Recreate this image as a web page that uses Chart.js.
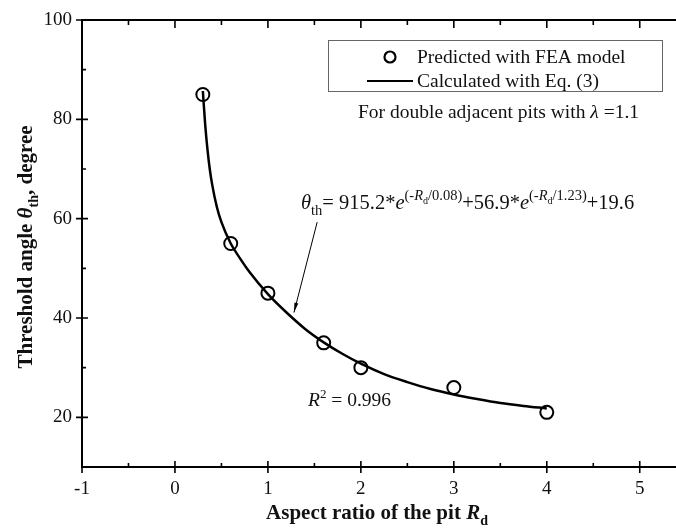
<!DOCTYPE html>
<html>
<head>
<meta charset="utf-8">
<script src="https://cdn.jsdelivr.net/npm/chart.js@4"></script>
<style>
  body { margin: 0; background: #fff; }
  canvas { display: block; }
</style>
</head>
<body>
<canvas id="chart" width="676" height="531"></canvas>
<script>
// FEA results (circles)
const feaR = [0.3, 0.6, 1, 1.6, 2, 3, 4];
const feaTheta = [85, 55, 45, 35, 30, 26, 21];

// fitted curve
const fitR = [0.3, 0.325, 0.35, 0.375, 0.4, 0.45, 0.5, 0.6, 0.7, 0.8, 1.0, 1.2, 1.4, 1.6, 1.8, 2.0, 2.25, 2.5, 2.75, 3.0, 3.25, 3.5, 3.75, 4.0];
const fitTheta = [85.7, 79.0, 73.9, 69.9, 66.9, 62.4, 59.3, 55.0, 52.0, 49.3, 44.8, 41.1, 37.8, 35.1, 32.8, 30.8, 28.7, 27.1, 25.7, 24.6, 23.7, 22.9, 22.3, 21.8];

const xTicks = [-1, 0, 1, 2, 3, 4, 5];
const yTicks = [20, 40, 60, 80, 100];

const serif = '"Liberation Serif", "Times New Roman", serif';
const ink = '#111';

// draws a run of mixed-style text pieces, baseline at y
function rich(ctx, segs, x, y, align) {
  let w = 0;
  segs.forEach(s => { ctx.font = s.f; w += ctx.measureText(s.t).width; });
  let cx = align === 'center' ? x - w / 2 : x;
  ctx.textBaseline = 'alphabetic';
  ctx.textAlign = 'left';
  segs.forEach(s => {
    ctx.font = s.f;
    ctx.fillText(s.t, cx, y + (s.dy || 0));
    cx += ctx.measureText(s.t).width;
  });
}

const extras = {
  id: 'extras',
  afterDraw(chart) {
    const ctx = chart.ctx;
    const a = chart.chartArea;
    const xs = chart.scales.x, ys = chart.scales.y;
    ctx.save();
    ctx.strokeStyle = '#000';
    ctx.fillStyle = ink;

    // top axis line
    ctx.lineWidth = 2;
    ctx.beginPath();
    ctx.moveTo(a.left - 1, a.top);
    ctx.lineTo(chart.width, a.top);
    ctx.stroke();

    // tick marks
    ctx.lineWidth = 1.6;
    ctx.beginPath();
    xTicks.forEach(v => {
      const px = xs.getPixelForValue(v);
      ctx.moveTo(px, a.bottom - 6); ctx.lineTo(px, a.bottom + 6);
      ctx.moveTo(px, a.top); ctx.lineTo(px, a.top + 8);
      const m = v + 0.5;
      if (m < xs.max) {
        const pm = xs.getPixelForValue(m);
        ctx.moveTo(pm, a.bottom - 4); ctx.lineTo(pm, a.bottom);
        ctx.moveTo(pm, a.top); ctx.lineTo(pm, a.top + 5);
      }
    });
    yTicks.forEach(v => {
      const py = ys.getPixelForValue(v);
      ctx.moveTo(a.left - 6, py); ctx.lineTo(a.left + 6, py);
      const m = v - 10;
      if (m > ys.min) {
        const pm = ys.getPixelForValue(m);
        ctx.moveTo(a.left, pm); ctx.lineTo(a.left + 4, pm);
      }
    });
    ctx.stroke();

    // legend box
    ctx.strokeStyle = '#666';
    ctx.lineWidth = 1;
    ctx.strokeRect(328.5, 40.5, 334, 51);
    ctx.strokeStyle = '#000';
    ctx.lineWidth = 2.2;
    ctx.beginPath();
    ctx.arc(390, 57, 5.5, 0, Math.PI * 2);
    ctx.stroke();
    ctx.lineWidth = 2;
    ctx.beginPath();
    ctx.moveTo(367, 81); ctx.lineTo(413, 81);
    ctx.stroke();

    const f = 'normal 19.5px ' + serif;
    const fi = 'italic 19.5px ' + serif;
    rich(ctx, [{ t: 'Predicted with FEA model', f }], 417, 63);
    rich(ctx, [{ t: 'Calculated with Eq. (3)', f }], 417, 87);
    rich(ctx, [
      { t: 'For double adjacent pits with ', f },
      { t: 'λ', f: fi },
      { t: ' =1.1', f }
    ], 358, 118);

    // equation
    const e = 'normal 20.5px ' + serif;
    const ei = 'italic 20.5px ' + serif;
    const s = 'normal 14.5px ' + serif;
    const si = 'italic 14.5px ' + serif;
    const ss = 'normal 10px ' + serif;
    rich(ctx, [
      { t: 'θ', f: ei },
      { t: 'th', f: s, dy: 6 },
      { t: '= 915.2*', f: e },
      { t: 'e', f: ei },
      { t: '(-', f: s, dy: -9 },
      { t: 'R', f: si, dy: -9 },
      { t: 'd', f: ss, dy: -5 },
      { t: '/0.08)', f: s, dy: -9 },
      { t: '+56.9*', f: e },
      { t: 'e', f: ei },
      { t: '(-', f: s, dy: -9 },
      { t: 'R', f: si, dy: -9 },
      { t: 'd', f: ss, dy: -5 },
      { t: '/1.23)', f: s, dy: -9 },
      { t: '+19.6', f: e }
    ], 301, 209);

    // arrow to the curve
    const x0 = xs.getPixelForValue(1.53), y0 = ys.getPixelForValue(59.3);
    const x1 = xs.getPixelForValue(1.28), y1 = ys.getPixelForValue(41.1);
    ctx.lineWidth = 1;
    ctx.beginPath();
    ctx.moveTo(x0, y0); ctx.lineTo(x1, y1);
    ctx.stroke();
    const ang = Math.atan2(y1 - y0, x1 - x0);
    ctx.fillStyle = '#000';
    ctx.beginPath();
    ctx.moveTo(x1, y1);
    ctx.lineTo(x1 - 10 * Math.cos(ang - 0.2), y1 - 10 * Math.sin(ang - 0.2));
    ctx.lineTo(x1 - 10 * Math.cos(ang + 0.2), y1 - 10 * Math.sin(ang + 0.2));
    ctx.closePath();
    ctx.fill();
    ctx.fillStyle = ink;

    rich(ctx, [
      { t: 'R', f: fi },
      { t: '2', f: 'normal 13px ' + serif, dy: -8 },
      { t: ' = 0.996', f }
    ], 308, 406);

    // axis titles
    const b = 'bold 21px ' + serif;
    const bi = 'bold italic 21px ' + serif;
    const bs = 'bold 14px ' + serif;
    rich(ctx, [
      { t: 'Aspect ratio of the pit ', f: b },
      { t: 'R', f: bi },
      { t: 'd', f: bs, dy: 6 }
    ], 377, 519, 'center');

    ctx.translate(32, 247);
    ctx.rotate(-Math.PI / 2);
    rich(ctx, [
      { t: 'Threshold angle ', f: b },
      { t: 'θ', f: bi },
      { t: 'th', f: bs, dy: 6 },
      { t: ', degree', f: b }
    ], 0, 0, 'center');

    ctx.restore();
  }
};

new Chart(document.getElementById('chart'), {
  type: 'scatter',
  data: {
    datasets: [
      {
        label: 'Calculated with Eq. (3)',
        data: fitR.map((r, i) => ({ x: r, y: fitTheta[i] })),
        showLine: true,
        borderColor: '#000',
        borderWidth: 2.5,
        pointRadius: 0,
        cubicInterpolationMode: 'monotone'
      },
      {
        label: 'Predicted with FEA model',
        data: feaR.map((r, i) => ({ x: r, y: feaTheta[i] })),
        showLine: false,
        pointRadius: 6.5,
        pointBorderWidth: 2,
        pointBorderColor: '#000',
        pointBackgroundColor: 'rgba(0,0,0,0)'
      }
    ]
  },
  options: {
    responsive: false,
    devicePixelRatio: 1,
    animation: false,
    layout: { autoPadding: false, padding: { top: 20, right: 0, left: 0, bottom: 0 } },
    plugins: { legend: { display: false }, tooltip: { enabled: false } },
    scales: {
      x: {
        type: 'linear',
        min: -1,
        max: 5.39,
        afterBuildTicks: sc => { sc.ticks = xTicks.map(v => ({ value: v })); },
        afterFit: sc => { sc.height = 64; },
        grid: { display: false },
        border: { display: true, color: '#000', width: 2 },
        ticks: {
          color: ink,
          font: { family: serif, size: 19 },
          padding: 3,
          maxRotation: 0,
          autoSkip: false
        }
      },
      y: {
        min: 10,
        max: 100,
        afterBuildTicks: sc => { sc.ticks = yTicks.map(v => ({ value: v })); },
        afterFit: sc => { sc.width = 82; },
        grid: { display: false },
        border: { display: true, color: '#000', width: 2 },
        ticks: {
          color: ink,
          font: { family: serif, size: 19 },
          padding: 2
        }
      }
    }
  },
  plugins: [extras]
});
</script>
</body>
</html>
